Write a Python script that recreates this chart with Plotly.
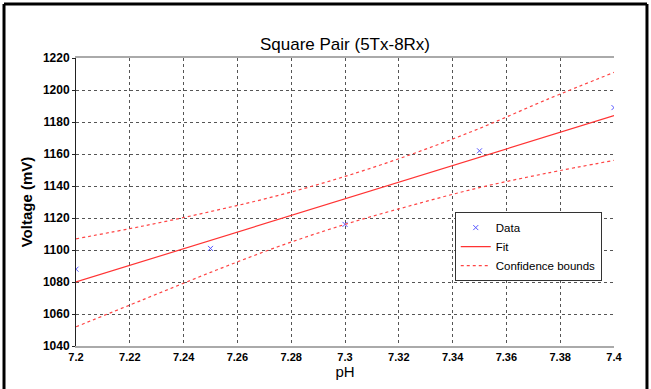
import plotly.graph_objects as go

# Data
data_ph = [7.20, 7.25, 7.30, 7.35, 7.40]
data_mv = [1088, 1101, 1116, 1162, 1189]

fit_ph = [7.20, 7.40]
fit_mv = [1080, 1184]

bound_ph = [7.200, 7.225, 7.250, 7.275, 7.300, 7.325, 7.350, 7.375, 7.400]
upper_mv = [1107, 1115, 1124, 1134, 1146, 1160, 1176, 1194, 1211]
lower_mv = [1052, 1069, 1086, 1102, 1116, 1128, 1139, 1148, 1156]

x_ticks = [7.20, 7.22, 7.24, 7.26, 7.28, 7.30, 7.32, 7.34, 7.36, 7.38, 7.40]
x_tick_labels = ["7.2", "7.22", "7.24", "7.26", "7.28", "7.3", "7.32", "7.34", "7.36", "7.38", "7.4"]
y_ticks = [1040, 1060, 1080, 1100, 1120, 1140, 1160, 1180, 1200, 1220]

FONT = "Liberation Sans, Arial, sans-serif"

fig = go.Figure()
fig.add_trace(go.Scatter(x=data_ph, y=data_mv, mode="markers", name="Data",
                         marker=dict(symbol="x-thin", size=5, color="#5555ff",
                                     line=dict(width=1, color="#5555ff"))))
fig.add_trace(go.Scatter(x=fit_ph, y=fit_mv, mode="lines", name="Fit",
                         line=dict(color="#ff3333", width=1.2)))
fig.add_trace(go.Scatter(x=bound_ph, y=upper_mv, mode="lines", name="Confidence bounds",
                         line=dict(color="#ff4444", width=1.2, dash="dot", shape="spline")))
fig.add_trace(go.Scatter(x=bound_ph, y=lower_mv, mode="lines", name="Confidence bounds",
                         showlegend=False,
                         line=dict(color="#ff4444", width=1.2, dash="dot", shape="spline")))

# outer frame (left, top, right)
for x0, y0, x1, y1 in [(-0.1338, -0.2, -0.1338, 1.1875),
                       (-0.1338, 1.1875, 1.0613, 1.1875),
                       (1.0613, 1.1875, 1.0613, -0.2)]:
    fig.add_shape(type="line", xref="paper", yref="paper", x0=x0, y0=y0, x1=x1, y1=y1,
                  line=dict(color="black", width=3), layer="above")

fig.update_layout(
    width=651, height=389,
    margin=dict(l=76, r=37, t=58, b=43),
    paper_bgcolor="white", plot_bgcolor="white",
    font=dict(family=FONT, color="black"),
    title=dict(text="Square Pair (5Tx-8Rx)", x=(345 / 651), xanchor="center",
               y=1 - 44 / 389, yanchor="middle",
               font=dict(size=17, family=FONT, color="black")),
    showlegend=True,
    legend=dict(x=0.704, y=0.465, xanchor="left", yanchor="top",
                bgcolor="white", bordercolor="#333333", borderwidth=1,
                font=dict(size=11.5, family=FONT), tracegroupgap=0,
                itemwidth=30),
)
fig.update_xaxes(range=[7.2, 7.4], tickvals=x_ticks, ticktext=x_tick_labels,
                 showgrid=True, gridcolor="#555555", griddash="dot", gridwidth=1,
                 showline=True, linecolor="#aaaaaa", linewidth=2, mirror=True,
                 ticks="", zeroline=False,
                 tickfont=dict(size=11, family=FONT, weight="bold"),
                 title=dict(text="pH", font=dict(size=15, family=FONT), standoff=4))
fig.update_yaxes(range=[1040, 1220], tickvals=y_ticks,
                 showgrid=True, gridcolor="#555555", griddash="dot", gridwidth=1,
                 showline=True, linecolor="#222222", linewidth=1, mirror=False,
                 ticks="outside", ticklen=3, tickcolor="#222222", zeroline=False,
                 tickfont=dict(size=12, family=FONT, weight="bold"),
                 title=dict(text="Voltage (mV)", font=dict(size=15, family=FONT, weight="bold"),
                            standoff=6))

fig.write_html("out.html")
